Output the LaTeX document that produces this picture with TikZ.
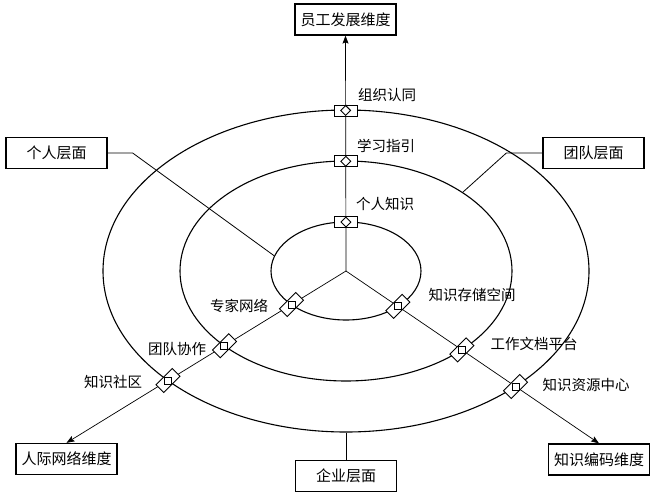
\documentclass[tikz,border=0pt]{standalone}
\usepackage{fontspec}
\newfontfamily\cjk{Noto Sans CJK SC}
\usetikzlibrary{arrows.meta,shapes.geometric,positioning}

\begin{document}
\begin{tikzpicture}[x=1pt, y=1pt,
  dimbox/.style={rectangle, draw, line width=1.3pt,
    minimum width=101pt, minimum height=31pt, inner sep=0pt,
    font=\cjk\fontsize{15}{18}\selectfont},
  ring/.style={ellipse, draw, line width=1.1pt, inner sep=0pt},
  axisarrow/.style={-{Stealth[length=8pt, width=6pt, inset=1.5pt]}, line width=0.7pt},
  linkline/.style={line width=0.8pt},
  tagbox/.style={rectangle, draw, fill=white, line width=0.9pt,
    minimum width=23pt, minimum height=11pt, inner sep=0pt},
  tagdot/.style={rectangle, draw, line width=0.9pt, minimum size=7pt, inner sep=0pt},
  taglabel/.style={font=\cjk\fontsize{14.5}{17}\selectfont, inner sep=0pt}
]
\useasboundingbox (0,0) rectangle (653,496);
\coordinate (o) at (346,225);
% rings
\node[ring, minimum width=486pt, minimum height=322pt] (outer) at (o) {};
\node[ring, minimum width=332pt, minimum height=220pt] (middle) at (o) {};
\node[ring, minimum width=150pt, minimum height=98pt] (inner) at (o) {};
% boxes
\node[dimbox] (staff) at (345.5,476.5) {员工发展维度};
\node[dimbox] (person) at (56.5,343) {个人层面};
\node[dimbox] (team) at (593.5,343) {团队层面};
\node[dimbox] (social) at (66.5,37) {人际网络维度};
\node[dimbox] (code) at (599,36.5) {知识编码维度};
\node[dimbox] (firm) at (346,20) {企业层面};
% level links
\draw[linkline] (person.east) -- ++(25,0) -- (inner.168);
\draw[linkline] (team.west) -- ++(-36,0) -- (middle.34);
\draw[linkline] (outer.south) -- (firm.north);
% axes with marks
\draw[axisarrow] (o) -- node[tagbox, pos=0.208] (u1) {}
  node[tagbox, pos=0.466] (u2) {} node[tagbox, pos=0.682] (u3) {} (staff.south);
\draw[axisarrow] (o) -- node[tagbox, rotate=45, pos=0.195] (l1) {}
  node[tagbox, rotate=45, pos=0.435] (l2) {} node[tagbox, rotate=45, pos=0.637] (l3) {} (social.north);
\draw[axisarrow] (o) -- node[tagbox, rotate=45, pos=0.205] (r1) {}
  node[tagbox, rotate=45, pos=0.458] (r2) {} node[tagbox, rotate=45, pos=0.670] (r3) {} (code.north);
\foreach \t in {u1,u2,u3} {\node[tagdot, rotate=45] (\t-dot) at (\t) {};}
\foreach \t in {l1,l2,l3,r1,r2,r3} {\node[tagdot] (\t-dot) at (\t) {};}
% labels
\node[taglabel] (lbl-org) at (387,401) {组织认同};
\node[taglabel] (lbl-learn) at (386,350) {学习指引};
\node[taglabel] (lbl-own) at (385,292) {个人知识};
\node[taglabel] (lbl-expert) at (239,190) {专家网络};
\node[taglabel] (lbl-coop) at (177,147) {团队协作};
\node[taglabel] (lbl-comm) at (113,114) {知识社区};
\node[taglabel] (lbl-store) at (472,201) {知识存储空间};
\node[taglabel] (lbl-doc) at (534,152) {工作文档平台};
\node[taglabel] (lbl-res) at (586,111) {知识资源中心};
\end{tikzpicture}
\end{document}
